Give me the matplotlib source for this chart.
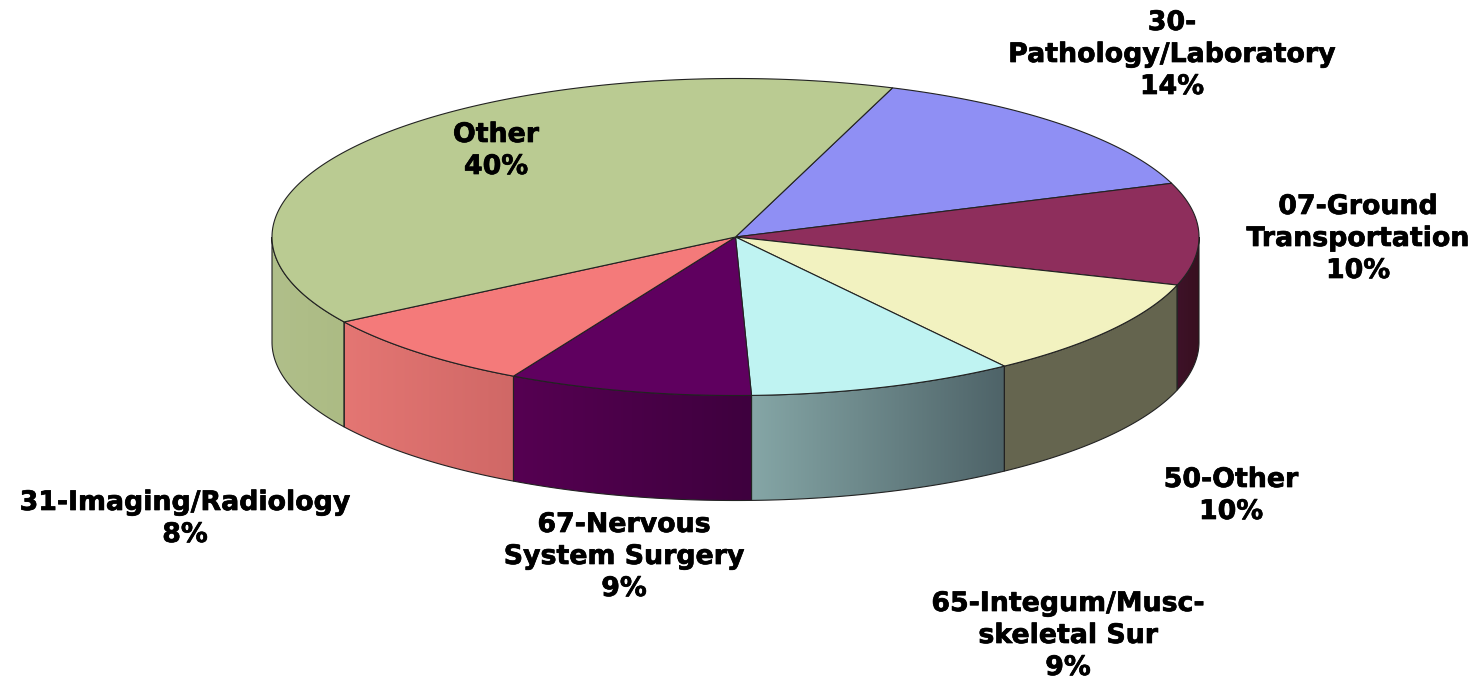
import numpy as np
import matplotlib
matplotlib.use("Agg")
import matplotlib.pyplot as plt
import matplotlib.patheffects as pe
from matplotlib.patches import Polygon
from matplotlib.colors import LinearSegmentedColormap

# Data (clockwise from the start angle)
categories = ["30-\nPathology/Laboratory", "07-Ground\nTransportation", "50-Other",
              "65-Integum/Musc-\nskeletal Sur", "67-Nervous\nSystem Surgery",
              "31-Imaging/Radiology", "Other"]
values = [14.0, 10.4, 10.25, 9.3, 8.5, 8.05, 39.5]
shown_pct = [14, 10, 10, 9, 9, 8, 40]
top_colors = ["#8F8FF4", "#8E2E5C", "#F2F2C0", "#BFF3F2", "#5F005F", "#F47A7A", "#BACB92"]
side_left = ["#6A6AB0", "#3E1229", "#666650", "#85A6A6", "#560052", "#E47673", "#B0BF8A"]
side_right = ["#6A6AB0", "#38101F", "#64644E", "#4E6368", "#3E003E", "#D06866", "#ACBB84"]
label_xy = [(1172, 55), (1358, 239), (1231, 496), (1068, 636), (624, 557), (185, 519), (496, 151)]

start_angle = 70.2
cx, cy, rx, ry, depth = 735.5, 237, 463.5, 158.5, 105

fig = plt.figure(figsize=(14.76, 6.8), dpi=100)
ax = fig.add_axes([0, 0, 1, 1])
ax.set_xlim(0, 1476)
ax.set_ylim(680, 0)
ax.axis("off")


def rim(a0, a1, n=200):
    t = np.radians(np.linspace(a0, a1, n))
    return cx + rx * np.cos(t), cy - ry * np.sin(t)


edges = start_angle - np.concatenate([[0], np.cumsum(values)]) * 3.6

# Side walls (only the part of the rim facing the viewer)
for i in range(len(values)):
    a0, a1 = edges[i], edges[i + 1]          # a0 > a1, clockwise
    lo, hi = max(a1, -180), min(a0, 0)
    if hi <= lo:
        continue
    x, y = rim(hi, lo)
    pts = np.vstack([np.column_stack([x, y]),
                     np.column_stack([x[::-1], y[::-1] + depth])])
    poly = Polygon(pts, closed=True, facecolor="none", edgecolor="#222222", lw=0.8, zorder=3)
    ax.add_patch(poly)
    xmin, xmax = x.min(), x.max()
    cmap = LinearSegmentedColormap.from_list("s", [side_left[i], side_right[i]])
    im = ax.imshow(np.linspace(0, 1, 256)[None, :], cmap=cmap, aspect="auto",
                   extent=[xmin, xmax, y.max() + depth + 2, y.min() - 2], zorder=2)
    im.set_clip_path(poly)

ax.set_xlim(0, 1476)
ax.set_ylim(680, 0)

# Top face
for i in range(len(values)):
    x, y = rim(edges[i], edges[i + 1])
    pts = np.vstack([[cx, cy], np.column_stack([x, y])])
    ax.add_patch(Polygon(pts, closed=True, facecolor=top_colors[i], edgecolor="#222222",
                         lw=0.8, joinstyle="round", zorder=4))

# Labels
for name, pct, (lx, ly) in zip(categories, shown_pct, label_xy):
    ax.text(lx, ly, f"{name}\n{pct}%", ha="center", va="center", multialignment="center",
            family="DejaVu Sans", weight="bold", fontsize=19.3, linespacing=1.3,
            color="black", zorder=5,
            path_effects=[pe.withStroke(linewidth=0.5, foreground="black")])

fig.savefig("out.png", dpi=100, facecolor="white")
